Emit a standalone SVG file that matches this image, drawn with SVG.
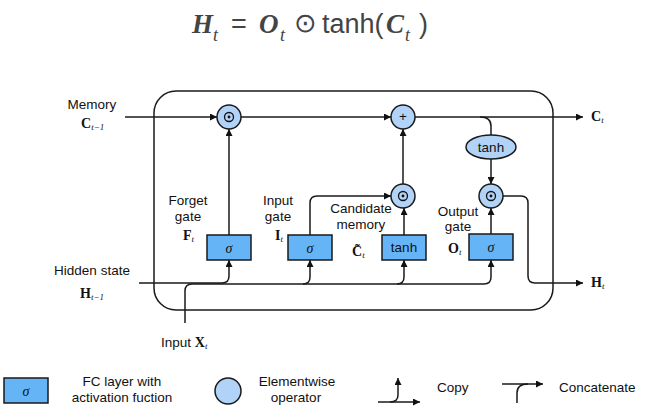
<svg xmlns="http://www.w3.org/2000/svg" width="664" height="407" viewBox="0 0 664 407">
<defs>
<marker id="ah" viewBox="0 0 10 10" refX="10" refY="5" markerWidth="7" markerHeight="7" markerUnits="userSpaceOnUse" orient="auto">
<path d="M0,0 L10,5 L0,10 z" fill="#111"/>
</marker>
<style>
.ln{fill:none;stroke:#1a1a1a;stroke-width:1.5}
.arr{fill:none;stroke:#1a1a1a;stroke-width:1.5;marker-end:url(#ah)}
.box{fill:#64b4f6;stroke:#1a1a1a;stroke-width:1.5}
.op{fill:#b0d3f7;stroke:#1a1a1a;stroke-width:1.5}
.t{font-family:"Liberation Sans",Arial,sans-serif;font-size:13.5px;fill:#111}
.c{text-anchor:middle}
.m{font-family:"Liberation Serif","Times New Roman",serif;font-weight:bold;font-size:14px;fill:#111}
.s{font-family:"Liberation Serif","Times New Roman",serif;font-style:italic;font-weight:normal;font-size:9px}
.sig{font-family:"Liberation Serif","Times New Roman",serif;font-style:italic;font-size:14px;fill:#111;text-anchor:middle}
.eq{font-family:"Liberation Serif","Times New Roman",serif;font-weight:bold;font-style:italic;font-size:27px;fill:#444}
.eqt{font-family:"Liberation Serif","Times New Roman",serif;font-weight:normal;font-style:italic;font-size:18px;fill:#444}
.eqs{font-family:"Liberation Sans",Arial,sans-serif;font-size:27px;fill:#444}
</style>
</defs>

<g id="equation">
<text x="192" y="33" class="eq">H</text>
<text x="213" y="41" class="eqt">t</text>
<text x="231" y="33" class="eqs" font-size="29">=</text>
<text x="259" y="33" class="eq">O</text>
<text x="280" y="41" class="eqt">t</text>
<text x="294" y="32" class="eqs" font-size="22">⊙</text>
<text x="322" y="33" class="eqs">tanh(</text>
<text x="386" y="33" class="eq">C</text>
<text x="405" y="41" class="eqt">t</text>
<text x="419" y="33" class="eqs">)</text>
</g>

<g id="cell">
<rect x="154" y="91" width="399" height="219" rx="22" ry="22" class="ln"/>
</g>

<g id="connectors">
<path class="arr" d="M125,117 H217"/>
<path class="arr" d="M241,117 H391"/>
<path class="arr" d="M415,117 H583"/>
<path class="ln" d="M480,117 Q491,117 491,126 V135"/>
<path class="arr" d="M491,159 V184"/>
<path class="arr" d="M229,235 V129"/>
<path class="arr" d="M403,184 V129"/>
<path class="arr" d="M310,235 V203 Q310,196 317,196 H391"/>
<path class="arr" d="M404,235 V208"/>
<path class="arr" d="M491,234 V208"/>
<path class="arr" d="M503,196 H521 Q528,196 528,203 V276 Q528,283 535,283 H583"/>
<path class="arr" d="M139,283 H222 Q229,283 229,276 V260"/>
<path class="arr" d="M185,323 V291 Q185,284 192,284 H484 Q491,284 491,277 V260"/>
<path class="arr" d="M303,284 Q310,284 310,277 V260"/>
<path class="arr" d="M397,284 Q404,284 404,277 V260"/>
</g>

<g id="forget-mul">
<circle cx="229" cy="117" r="12" class="op"/>
<circle cx="229" cy="117" r="4.5" fill="none" stroke="#111" stroke-width="1.3"/>
<circle cx="229" cy="117" r="1.4" fill="#111"/>
</g>
<g id="plus">
<circle cx="403" cy="117" r="12" class="op"/>
<text x="403" y="121" class="t c" font-size="11">+</text>
</g>
<g id="candidate-mul">
<circle cx="403" cy="196" r="12" class="op"/>
<circle cx="403" cy="196" r="4.5" fill="none" stroke="#111" stroke-width="1.3"/>
<circle cx="403" cy="196" r="1.4" fill="#111"/>
</g>
<g id="output-mul">
<circle cx="491" cy="196" r="12" class="op"/>
<circle cx="491" cy="196" r="4.5" fill="none" stroke="#111" stroke-width="1.3"/>
<circle cx="491" cy="196" r="1.4" fill="#111"/>
</g>
<g id="tanh-op">
<ellipse cx="491" cy="147" rx="25" ry="12" class="op"/>
<text x="491" y="152" class="t c">tanh</text>
</g>

<g id="forget-gate">
<rect x="207" y="235" width="44" height="25" class="box"/>
<text x="229" y="253" class="sig">σ</text>
</g>
<g id="input-gate">
<rect x="288" y="235" width="44" height="25" class="box"/>
<text x="310" y="253" class="sig">σ</text>
</g>
<g id="candidate">
<rect x="382" y="235" width="44" height="25" class="box"/>
<text x="404" y="252" class="t c">tanh</text>
</g>
<g id="output-gate">
<rect x="469" y="234" width="44" height="26" class="box"/>
<text x="491" y="252" class="sig">σ</text>
</g>

<g id="labels">
<text x="92" y="109" class="t c">Memory</text>
<text x="81" y="128" class="m">C<tspan class="s" dy="2">t</tspan><tspan class="s" font-style="normal">−1</tspan></text>
<text x="591" y="121" class="m">C<tspan class="s" dy="2">t</tspan></text>
<text x="591" y="287" class="m">H<tspan class="s" dy="2">t</tspan></text>
<text x="92" y="275" class="t c">Hidden state</text>
<text x="80" y="298" class="m">H<tspan class="s" dy="2">t</tspan><tspan class="s" font-style="normal">−1</tspan></text>
<text x="188" y="205" class="t c">Forget</text>
<text x="188" y="221" class="t c">gate</text>
<text x="183" y="240" class="m">F<tspan class="s" dy="2">t</tspan></text>
<text x="278" y="205" class="t c">Input</text>
<text x="278" y="221" class="t c">gate</text>
<text x="275" y="240" class="m">I<tspan class="s" dy="2">t</tspan></text>
<text x="361" y="213" class="t c">Candidate</text>
<text x="361" y="229" class="t c">memory</text>
<text x="352" y="256" class="m">C̃<tspan class="s" dy="2">t</tspan></text>
<text x="458" y="216" class="t c">Output</text>
<text x="458" y="231" class="t c">gate</text>
<text x="448" y="253" class="m">O<tspan class="s" dy="2">t</tspan></text>
<text x="161" y="347" class="t">Input <tspan class="m">X</tspan><tspan class="m s" dy="2">t</tspan></text>
</g>

<g id="legend">
<rect x="4" y="378" width="44" height="25" class="box"/>
<text x="26" y="396" class="sig">σ</text>
<text x="122" y="386" class="t c">FC layer with</text>
<text x="122" y="402" class="t c">activation fuction</text>
<circle cx="228" cy="391" r="13" class="op"/>
<text x="297" y="386" class="t c">Elementwise</text>
<text x="296" y="402" class="t c">operator</text>
<path class="arr" d="M378,402 H420"/>
<path class="arr" d="M390,402 Q398,402 398,395 V378"/>
<text x="437" y="392" class="t">Copy</text>
<path class="arr" d="M502,384 H543"/>
<path class="ln" d="M517,403 V393 Q517,384 528,384"/>
<text x="559" y="392" class="t">Concatenate</text>
</g>
</svg>
